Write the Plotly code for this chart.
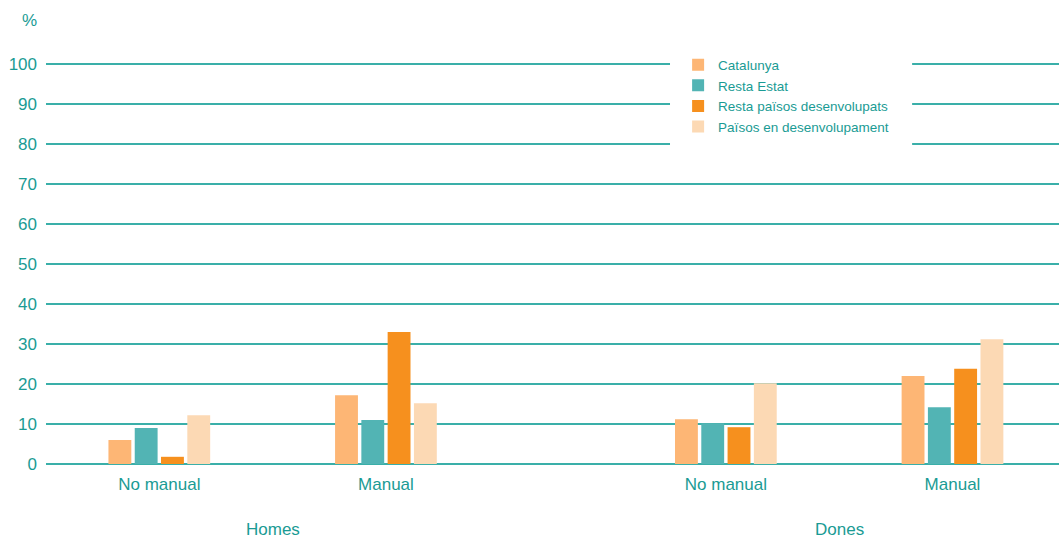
import plotly.graph_objects as go

x_pos = [0, 1, 2.5, 3.5]
x_labels = ["No manual", "Manual", "No manual", "Manual"]
groups = ["Homes", "Dones"]
group_pos = [0.5, 3.0]

series_names = ["Catalunya", "Resta Estat", "Resta països desenvolupats", "Països en desenvolupament"]
catalunya = [6.0, 17.2, 11.2, 22.0]
resta_estat = [9.0, 11.0, 10.2, 14.2]
resta_paisos = [1.8, 33.0, 9.2, 23.8]
paisos_dev = [12.2, 15.2, 20.2, 31.2]
series_values = [catalunya, resta_estat, resta_paisos, paisos_dev]
colors = ["#fdb675", "#52b4b4", "#f6901e", "#fcd9b4"]

y_ticks = [0, 10, 20, 30, 40, 50, 60, 70, 80, 90, 100]

teal = "#1a9b94"
font_family = "Liberation Sans, Arial, sans-serif"

fig = go.Figure()
for name, vals, c in zip(series_names, series_values, colors):
    fig.add_trace(go.Bar(x=x_pos, y=vals, name=name, marker=dict(color=c, line=dict(width=0))))

fig.update_layout(
    width=1059, height=538,
    margin=dict(l=46, r=0, t=52, b=72, autoexpand=False),
    plot_bgcolor="white", paper_bgcolor="white",
    barmode="group", bargap=0.536, bargroupgap=0.13,
    font=dict(family=font_family, color=teal, size=17),
    showlegend=True,
    legend=dict(x=0.624, y=1.006, xanchor="left", yanchor="top",
                bgcolor="rgba(0,0,0,0)", font=dict(size=13.5, color=teal),
                tracegroupgap=0, itemwidth=30, traceorder="normal"),
    xaxis=dict(range=[-0.5, 3.97], tickmode="array", tickvals=x_pos, ticktext=x_labels,
               showgrid=False, zeroline=False, showline=False, ticks="", automargin=False,
               tickfont=dict(size=17, color=teal), ticklabelstandoff=6),
    yaxis=dict(range=[-0.5, 103], tickmode="array", tickvals=y_ticks,
               showgrid=True, gridcolor="#3aafa9", gridwidth=1.5,
               zeroline=False, showline=False, ticks="", automargin=False,
               tickfont=dict(size=17, color=teal), ticklabelstandoff=8),
)

# white panel behind the legend (breaks the gridlines like the reference)
fig.add_shape(type="rect", xref="paper", yref="paper", x0=0.616, x1=0.855, y0=0.758, y1=1.0,
              fillcolor="white", line=dict(width=0), layer="above")

for g, gx in zip(groups, group_pos):
    fig.add_annotation(x=gx, y=0, xref="x", yref="y", text=g, showarrow=False,
                       yshift=-65, font=dict(size=17, color=teal))

fig.add_annotation(xref="paper", yref="paper", x=-0.016, y=1.0, yshift=32,
                   xanchor="center", yanchor="middle", text="%", showarrow=False,
                   font=dict(size=17, color=teal))

fig.write_html("out.html", config={"displayModeBar": False},
               post_script="document.body.style.margin='0';document.body.style.overflow='hidden';")
